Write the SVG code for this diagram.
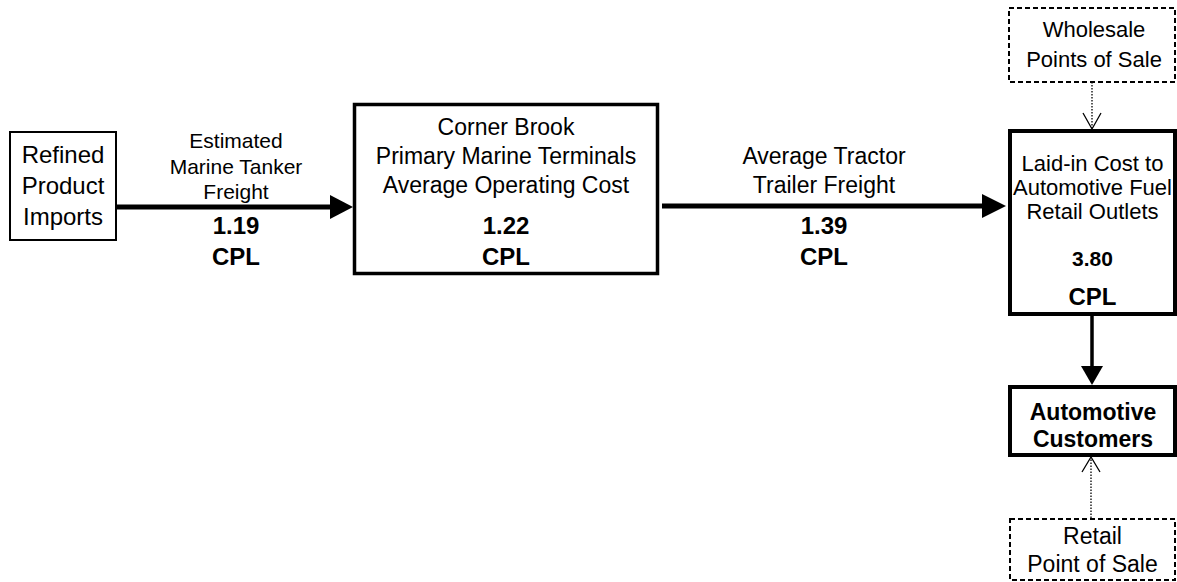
<svg xmlns="http://www.w3.org/2000/svg" width="1177" height="582" viewBox="0 0 1177 582">
<style>
text{font-family:"Liberation Sans",Arial,sans-serif;fill:#000;text-anchor:middle}
.n{font-size:23px}
.s{font-size:21px}
.b{font-size:24px;font-weight:bold}
.box{fill:#fff;stroke:#000}
.dash{fill:#fff;stroke:#000;stroke-width:2;stroke-dasharray:5 3}
.line{stroke:#000;fill:none}
.dot{stroke:#000;fill:none;stroke-width:1.3;stroke-dasharray:1.5 1.5}
</style>
<rect width="1177" height="582" fill="#fff"/>
<g id="connectors">
  <line class="line" x1="117" y1="207" x2="331" y2="207" stroke-width="5"/>
  <polygon points="330,195 353,207 330,219"/>
  <line class="line" x1="662" y1="206" x2="983" y2="206" stroke-width="5"/>
  <polygon points="982,194 1006,206 982,218"/>
  <line class="line" x1="1092" y1="316" x2="1092" y2="367" stroke-width="3.5"/>
  <polygon points="1081,366 1103,366 1092,385"/>
  <line class="dot" x1="1092" y1="82" x2="1092" y2="128"/>
  <polyline class="line" stroke-width="1.3" points="1083,113 1092,129 1101,113"/>
  <line class="dot" x1="1091" y1="518" x2="1091" y2="458"/>
  <polyline class="line" stroke-width="1.3" points="1082,472 1091,457 1100,472"/>
</g>
<g id="label-marine">
  <text class="s" x="236" y="148">Estimated</text>
  <text class="s" x="236" y="174">Marine Tanker</text>
  <text class="s" x="236" y="199">Freight</text>
  <text class="b" x="236" y="234">1.19</text>
  <text class="b" x="236" y="265">CPL</text>
</g>
<g id="label-tractor">
  <text class="n" x="824" y="164">Average Tractor</text>
  <text class="n" x="824" y="193">Trailer Freight</text>
  <text class="b" x="824" y="234">1.39</text>
  <text class="b" x="824" y="265">CPL</text>
</g>
<g id="refined">
  <rect class="box" x="10" y="132" width="106" height="108" stroke-width="2"/>
  <text class="n" x="63" y="163" style="font-size:24px">Refined</text>
  <text class="n" x="63" y="194" style="font-size:24px">Product</text>
  <text class="n" x="63" y="225" style="font-size:24px">Imports</text>
</g>
<g id="cornerbrook">
  <rect class="box" x="354.5" y="104.5" width="303" height="169" stroke-width="3.5"/>
  <text class="n" x="506" y="135">Corner Brook</text>
  <text class="n" x="506" y="164">Primary Marine Terminals</text>
  <text class="n" x="506" y="193">Average Operating Cost</text>
  <text class="b" x="506" y="234">1.22</text>
  <text class="b" x="506" y="265">CPL</text>
</g>
<g id="laidin">
  <rect class="box" x="1010" y="131" width="165" height="183" stroke-width="4"/>
  <text class="n" x="1092.5" y="171" style="font-size:22px">Laid-in Cost to</text>
  <text class="n" x="1092.5" y="195" style="font-size:22px">Automotive Fuel</text>
  <text class="n" x="1092.5" y="219" style="font-size:22px">Retail Outlets</text>
  <text class="b" x="1092.5" y="266" style="font-size:21px">3.80</text>
  <text class="b" x="1092.5" y="305">CPL</text>
</g>
<g id="customers">
  <rect class="box" x="1010" y="387" width="165" height="68" stroke-width="4"/>
  <text class="b" x="1093" y="420" style="font-size:23px">Automotive</text>
  <text class="b" x="1093" y="447" style="font-size:23px">Customers</text>
</g>
<g id="wholesale">
  <rect class="dash" x="1009" y="8" width="166" height="74"/>
  <text class="n" x="1094" y="37" style="font-size:22px">Wholesale</text>
  <text class="n" x="1094" y="67" style="font-size:22px">Points of Sale</text>
</g>
<g id="retail">
  <rect class="dash" x="1010" y="519" width="165" height="61"/>
  <text class="n" x="1092.5" y="544">Retail</text>
  <text class="n" x="1092.5" y="572">Point of Sale</text>
</g>
</svg>
